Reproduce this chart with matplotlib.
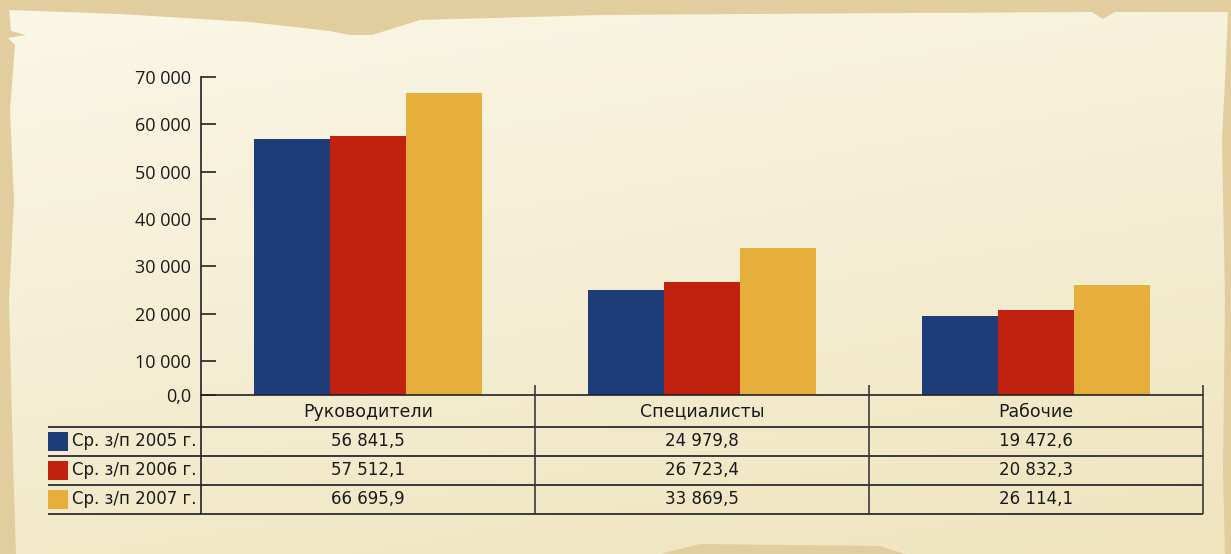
import matplotlib
matplotlib.use("Agg")
import matplotlib.pyplot as plt
import numpy as np
from matplotlib.patches import Polygon, Rectangle
from matplotlib.colors import LinearSegmentedColormap
from matplotlib.ticker import FixedLocator, FixedFormatter

categories = ["Руководители", "Специалисты", "Рабочие"]
series_names = ["Ср. з/п 2005 г.", "Ср. з/п 2006 г.", "Ср. з/п 2007 г."]
wage_2005 = [56841.5, 24979.8, 19472.6]
wage_2006 = [57512.1, 26723.4, 20832.3]
wage_2007 = [66695.9, 33869.5, 26114.1]
y_ticks = [10000, 20000, 30000, 40000, 50000, 60000, 70000]

series = [wage_2005, wage_2006, wage_2007]
colors = ["#1e3c78", "#c0220f", "#e6ae3a"]

W, H = 1231, 554
fig = plt.figure(figsize=(W / 100, H / 100), dpi=100)
fig.patch.set_facecolor("#e2cd9e")


def fx(px):
    return px / W


def fy(py):
    return 1 - py / H


# --- parchment background ---
bg = fig.add_axes([0, 0, 1, 1])
bg.set_xlim(0, W)
bg.set_ylim(H, 0)
bg.axis("off")
paper_pts = [(9, 10), (120, 14), (250, 22), (330, 31), (350, 35), (372, 35),
             (420, 20), (600, 15), (900, 13), (1092, 12), (1103, 19), (1115, 12),
             (1228, 12), (1226, 60), (1222, 140), (1225, 300), (1223, 470),
             (1225, 554), (905, 554), (880, 546), (700, 544), (660, 554),
             (16, 554), (13, 460), (9, 300), (14, 200), (10, 110), (15, 45),
             (8, 38), (26, 35), (11, 31)]
paper = Polygon(paper_pts, closed=True, facecolor="none", edgecolor="none")
bg.add_patch(paper)
yy, xx = np.mgrid[0:1:120j, 0:1:240j]
shade = 0.65 * yy + 0.25 * xx
paper_cmap = LinearSegmentedColormap.from_list("paper", ["#fbf7e7", "#f5eed4", "#efe4be"])
img = bg.imshow(shade, cmap=paper_cmap, extent=(0, W, H, 0), aspect="auto",
                interpolation="bilinear", vmin=0, vmax=0.9)
img.set_clip_path(paper)

# --- bar chart ---
y_floor = 2800  # bars are cut off by the table just above zero
ax = fig.add_axes([fx(201), fy(395), fx(1203) - fx(201), fy(77) - fy(395)])
ax.patch.set_alpha(0)
x = np.arange(len(categories))
width = 0.227
for i, (vals, c) in enumerate(zip(series, colors)):
    ax.bar(x + (i - 1) * width, vals, width, color=c, linewidth=0, zorder=2)

ax.set_xlim(-0.5, 2.5)
ax.set_ylim(y_floor, 70000)
ax.yaxis.set_major_locator(FixedLocator([y_floor] + y_ticks))
ax.yaxis.set_major_formatter(FixedFormatter(
    ["0,0"] + [f"{v:,.0f}".replace(",", " ") for v in y_ticks]))
ax.set_xticks([])
for s in ["top", "right"]:
    ax.spines[s].set_visible(False)
for s in ["left", "bottom"]:
    ax.spines[s].set_color("#222222")
    ax.spines[s].set_linewidth(1.2)
ax.tick_params(axis="y", direction="in", length=11, width=1.2, color="#222222",
               pad=7, labelsize=13, labelcolor="#1a1a1a")
for lab in ax.get_yticklabels():
    lab.set_fontfamily(["Open Sans", "DejaVu Sans"])

# --- data table below ---
row_edges = [0, 1.1, 2.1, 3.1, 4.1]
tab = fig.add_axes([fx(201), fy(514), fx(1203) - fx(201), fy(395) - fy(514)])
tab.set_xlim(-0.5, 2.5)
tab.set_ylim(row_edges[-1], 0)
tab.axis("off")
line_c = "#3a3a3a"
label_left = -0.5 - 153 / 334

tab.hlines(row_edges[1:], label_left, 2.5, color=line_c, lw=1.4, clip_on=False)
tab.vlines([-0.5], 0, row_edges[-1], color="#222222", lw=1.2, clip_on=False)
tab.vlines([0.5, 1.5, 2.5], -0.35, row_edges[-1], color=line_c, lw=1.2, clip_on=False)

for i, cat in enumerate(categories):
    tab.text(i, 0.57, cat, ha="center", va="center", fontsize=12.5, color="#1a1a1a")

for r, (name, vals, c) in enumerate(zip(series_names, series, colors)):
    yc = (row_edges[r + 1] + row_edges[r + 2]) / 2
    tab.add_patch(Rectangle((label_left, yc - 0.33), 20 / 334, 0.66,
                            facecolor=c, edgecolor="none", clip_on=False))
    tab.text(-0.5 - 4 / 334, yc, name, ha="right", va="center", fontsize=12,
             color="#1a1a1a", clip_on=False)
    for i, v in enumerate(vals):
        txt = f"{v:,.1f}".replace(",", " ").replace(".", ",")
        tab.text(i, yc, txt, ha="center", va="center", fontsize=12, color="#1a1a1a")

fig.savefig("out.png", dpi=100, facecolor=fig.get_facecolor())
